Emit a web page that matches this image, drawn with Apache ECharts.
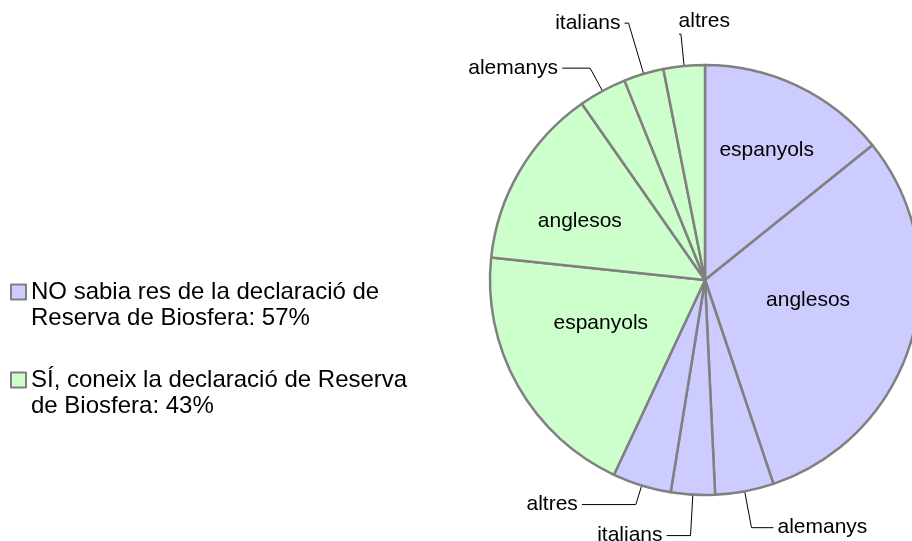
<!DOCTYPE html>
<html>
<head>
<meta charset="utf-8">
<script src="https://cdn.jsdelivr.net/npm/echarts@6/dist/echarts.min.js"></script>
<style>
    html, body { margin: 0; padding: 0; background: #fff; }
    #main { width: 912px; height: 541px; }
</style>
</head>
<body>
<div id="main"></div>
<script>
    // dades llegides del gràfic (en %)
    const groupNames = ['NO sabia res de la declaració de\nReserva de Biosfera', 'SÍ, coneix la declaració de Reserva\nde Biosfera'];
    const noNames = ['espanyols', 'anglesos', 'alemanys', 'italians', 'altres'];
    const noValues = [14.2, 30.6, 4.4, 3.3, 4.4];
    const siNames = ['espanyols', 'anglesos', 'alemanys', 'italians', 'altres'];
    const siValues = [19.7, 13.6, 3.6, 3.0, 3.1];

    const font = "'Liberation Sans', Arial, sans-serif";
    const sum = arr => arr.reduce((a, b) => a + b, 0);
    const total = sum(noValues) + sum(siValues);
    const pct = [Math.round(sum(noValues) / total * 100), Math.round(sum(siValues) / total * 100)];
    const splitAngle = 90 - 360 * sum(noValues) / total;

    // llargades de les línies per a les etiquetes petites
    const lineLen = {
        0: {alemanys: [37, 22], italians: [41, 24], altres: [20, 54]},
        1: {alemanys: [26, 28], italians: [53, 4], altres: [32, 2]}
    };
    // petits desplaçaments de les etiquetes
    const labelShift = {
        '0_0': [14, -30], '0_1': [-3, -11],
        '1_0': [-8, -11], '1_1': [-30, -3],
        '1_4': [55, -13]
    };

    function buildData(names, values, s) {
        return names.map(function (n, i) {
            const item = {name: n, value: values[i]};
            if (lineLen[s][n]) {
                item.label = {position: 'outside'};
                item.labelLine = {show: true, length: lineLen[s][n][0], length2: lineLen[s][n][1]};
            } else {
                item.label = {position: 'inside'};
                item.labelLine = {show: false};
            }
            return item;
        });
    }

    function pieSeries(name, color, data, start, end) {
        return {
            name: name,
            type: 'pie',
            center: [705, 280],
            radius: 215,
            startAngle: start,
            endAngle: end,
            clockwise: true,
            avoidLabelOverlap: false,
            animation: false,
            itemStyle: {color: color, borderColor: '#808080', borderWidth: 2.5},
            label: {show: true, color: '#000', fontSize: 21, fontFamily: font, distanceToLabelLine: 4},
            labelLine: {lineStyle: {color: '#000', width: 1}},
            labelLayout: function (p) {
                const sh = labelShift[p.seriesIndex + '_' + p.dataIndex];
                return sh ? {dx: sh[0], dy: sh[1]} : {};
            },
            emphasis: {disabled: true},
            data: data
        };
    }

    let myChart = echarts.init(document.getElementById('main'));
    myChart.setOption({
        backgroundColor: '#fff',
        legend: {
            orient: 'vertical',
            left: 10,
            top: 253,
            padding: 0,
            itemWidth: 15,
            itemHeight: 15,
            itemGap: 10,
            icon: 'rect',
            itemStyle: {borderColor: '#808080', borderWidth: 2},
            textStyle: {color: '#000', fontSize: 24, lineHeight: 26, fontFamily: font},
            data: groupNames,
            formatter: function (name) {
                // línia buida al davant perquè el quadre quedi a l'altura de la primera línia
                return '\n' + name + ': ' + pct[groupNames.indexOf(name)] + '%';
            }
        },
        series: [
            pieSeries(groupNames[0], '#ccccff', buildData(noNames, noValues, 0), 90, splitAngle),
            pieSeries(groupNames[1], '#ccffcc', buildData(siNames, siValues, 1), splitAngle, -270)
        ]
    });
</script>
</body>
</html>
